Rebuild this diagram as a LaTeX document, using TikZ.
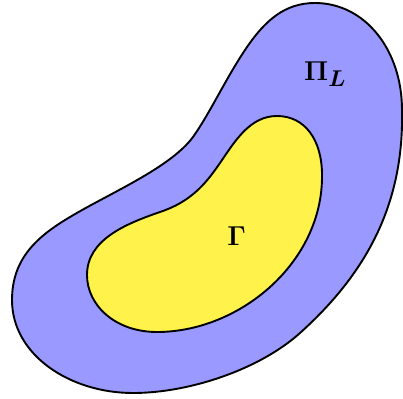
\documentclass[tikz,border=0pt]{standalone}
\definecolor{outerblue}{RGB}{153,153,255}
\definecolor{inneryellow}{RGB}{255,242,74}
\tikzset{blob/.style={draw=black,line width=1.9pt,line join=round},
  lab/.style={inner sep=0pt,font=\Huge\boldmath,scale=1.1}}
\begin{document}
\begin{tikzpicture}[x=1pt,y=-1pt]
\useasboundingbox (0,0) rectangle (403,398);
\draw[blob,fill=outerblue] (315,3)
  .. controls (365,3) and (402,50) .. (402,110)
  .. controls (404,200) and (370,270) .. (300,333)
  .. controls (260,369) and (190,393) .. (133,393)
  .. controls (70,393) and (12,355) .. (12,300)
  .. controls (12,258) and (38,236) .. (70,217)
  .. controls (110,193) and (170,168) .. (193,137)
  .. controls (210,113) and (225,80) .. (245,50)
  .. controls (265,20) and (285,3) .. (315,3) -- cycle;
\draw[blob,fill=inneryellow] (277,116)
  .. controls (305,116) and (322,140) .. (322,175)
  .. controls (323,262) and (240,332) .. (157,332)
  .. controls (115,332) and (87,305) .. (87,275)
  .. controls (87,240) and (125,224) .. (160,212)
  .. controls (190,202) and (205,185) .. (220,163)
  .. controls (235,141) and (250,116) .. (277,116) -- cycle;
\node[lab,anchor=base west] (pil) at (304,81) {$\Pi_L$};
\node[lab,anchor=base] (gam) at (236.5,245) {$\Gamma$};
\end{tikzpicture}
\end{document}
